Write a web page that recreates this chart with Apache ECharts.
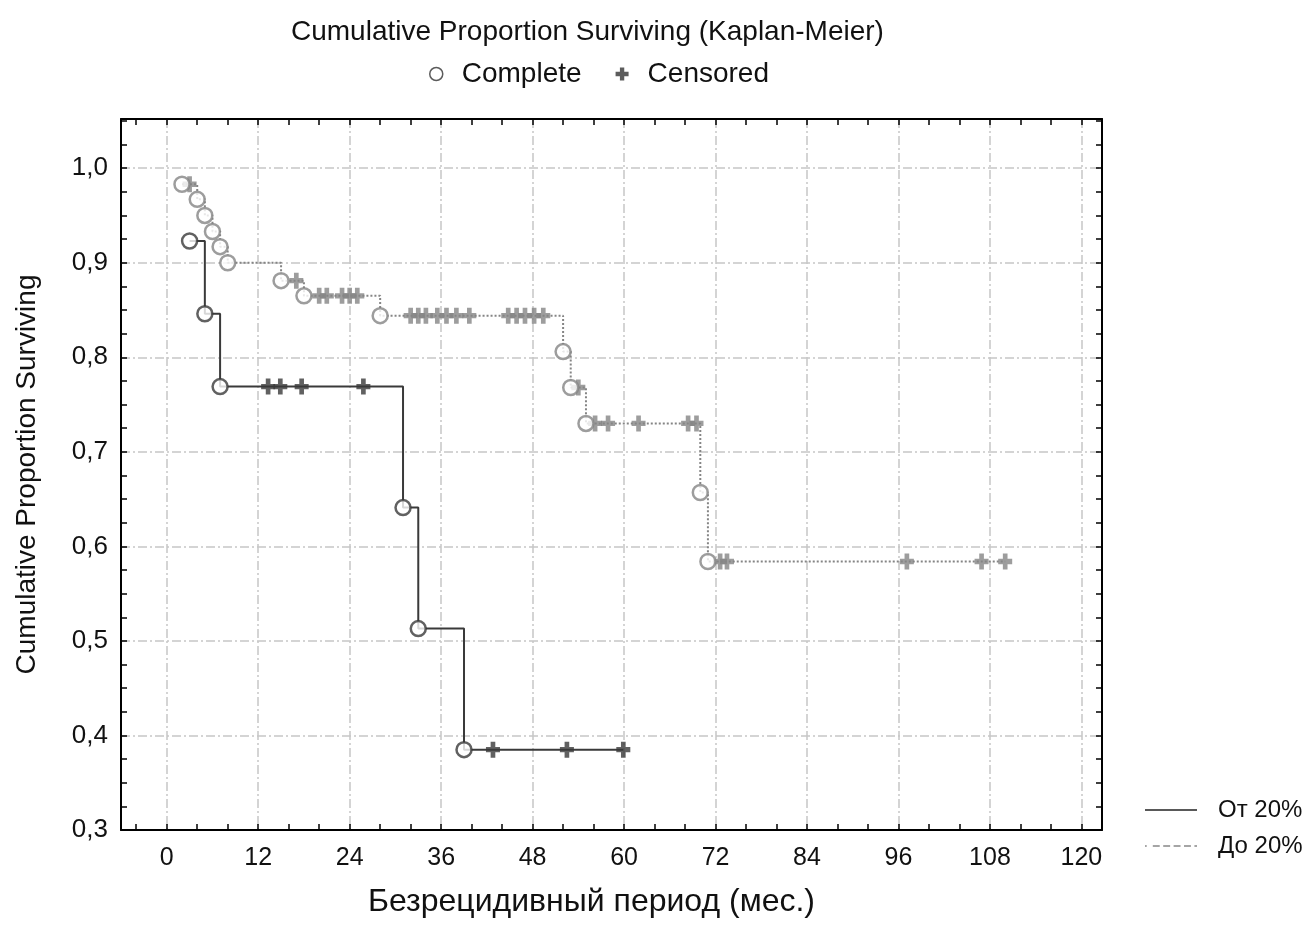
<!DOCTYPE html>
<html>
<head>
<meta charset="utf-8">
<script src="https://cdn.jsdelivr.net/npm/echarts@6/dist/echarts.min.js"></script>
<style>
  html, body { margin: 0; padding: 0; background: #fff; }
  #main { width: 1315px; height: 925px; }
</style>
</head>
<body>
<div id="main"></div>
<script>
// group "От 20%" (solid line)
const otEventT = [3, 5, 7, 31, 33, 39];
const otEventS = [0.923, 0.846, 0.769, 0.641, 0.513, 0.385];
const otCensT = [13.3, 14.9, 17.7, 25.8, 42.8, 52.5, 59.9];
const otCensS = [0.769, 0.769, 0.769, 0.769, 0.385, 0.385, 0.385];

// group "До 20%" (dotted line)
const doEventT = [2, 4, 5, 6, 7, 8, 15, 18, 28, 52, 53, 55, 70, 71];
const doEventS = [0.983, 0.967, 0.950, 0.933, 0.917, 0.900, 0.881, 0.865, 0.844, 0.806, 0.768, 0.730, 0.657, 0.584];
const doCensT = [3, 17, 20, 21, 23, 24, 25, 32, 33, 34, 35.5, 36.7, 38, 39.7,
  44.8, 45.9, 47, 48.2, 49.4, 54, 56.2, 57.9, 61.9, 68.4, 69.5, 72.6, 73.5, 97.1, 106.9, 110];
const doCensS = [0.983, 0.881, 0.865, 0.865, 0.865, 0.865, 0.865, 0.844, 0.844, 0.844, 0.844, 0.844, 0.844, 0.844,
  0.844, 0.844, 0.844, 0.844, 0.844, 0.768, 0.730, 0.730, 0.730, 0.730, 0.730, 0.584, 0.584, 0.584, 0.584, 0.584];

const xMajor = [0, 12, 24, 36, 48, 60, 72, 84, 96, 108, 120];
const xMinor = [-4, 0, 4, 8, 12, 16, 20, 24, 28, 32, 36, 40, 44, 48, 52, 56, 60, 64, 68, 72, 76, 80,
  84, 88, 92, 96, 100, 104, 108, 112, 116, 120];
const yMajor = [0.3, 0.4, 0.5, 0.6, 0.7, 0.8, 0.9, 1.0];
const yMinor = [0.3, 0.325, 0.35, 0.375, 0.4, 0.425, 0.45, 0.475, 0.5, 0.525, 0.55, 0.575, 0.6, 0.625,
  0.65, 0.675, 0.7, 0.725, 0.75, 0.775, 0.8, 0.825, 0.85, 0.875, 0.9, 0.925, 0.95, 0.975, 1.0, 1.025, 1.05];

const XMIN = -6, XMAX = 122.7, YMIN = 0.3, YMAX = 1.052;
const FONT = "'Liberation Sans', Arial, sans-serif";
const DARK = '#3a3a3a', GREY = '#858585';
const PLUS = 'path://M4,0h4v4h4v4h-4v4h-4v-4h-4v-4h4z';
const SOLID_ICON = 'path://M0,0h60v2h-60z';
const DASH_ICON = 'path://M0,0h2v2h-2zM9,0h8v2h-8zM21,0h8v2h-8zM33,0h8v2h-8zM45,0h8v2h-8zM57,0h3v2h-3z';

const pairs = (t, s) => t.map((v, i) => [v, s[i]]);
const stepLine = (eT, eS, cT, cS) =>
  pairs(eT, eS).concat(pairs(cT, cS)).sort((a, b) => a[0] - b[0]);

const gridLine = { color: '#c6c6c6', width: 1.5, type: [9, 3, 2, 3] };
const tickLine = { color: '#000', width: 1.5 };
const border = { show: true, onZero: false, lineStyle: { color: '#000', width: 2 } };

const xBase = { type: 'value', min: XMIN, max: XMAX };
const yBase = { type: 'value', min: YMIN, max: YMAX };

const option = {
  animation: false,
  backgroundColor: '#fff',
  textStyle: { fontFamily: FONT },
  title: {
    text: 'Cumulative Proportion Surviving (Kaplan-Meier)',
    left: 286, top: 13,
    textStyle: { fontFamily: FONT, fontSize: 28, fontWeight: 'normal', color: '#111' }
  },
  legend: [
    {
      data: [
        { name: 'Complete', icon: 'circle', itemStyle: { color: '#fff', borderColor: '#333', borderWidth: 1.5 } },
        { name: 'Censored', icon: PLUS, itemStyle: { color: '#333' } }
      ],
      left: 424, top: 55, itemWidth: 13, itemHeight: 13, itemGap: 34,
      textStyle: { fontFamily: FONT, fontSize: 28, color: '#111', padding: [0, 0, 0, 14] }
    },
    {
      data: [
        { name: 'От 20%', icon: SOLID_ICON, itemStyle: { color: '#222' } },
        { name: 'До 20%', icon: DASH_ICON, itemStyle: { color: '#888' } }
      ],
      orient: 'vertical', left: 1140, top: 793, itemWidth: 52, itemHeight: 2, itemGap: 12,
      textStyle: { fontFamily: FONT, fontSize: 24, color: '#111', padding: [0, 0, 0, 16] }
    }
  ],
  grid: { left: 121, right: 213, top: 119, bottom: 95, containLabel: false, outerBoundsMode: 'none' },
  xAxis: [
    Object.assign({}, xBase, {
      position: 'bottom',
      name: 'Безрецидивный период (мес.)', nameLocation: 'middle', nameGap: 56,
      nameTextStyle: { fontFamily: FONT, fontSize: 32, color: '#111', padding: [0, 40, 0, 0] },
      axisLine: border,
      axisTick: { show: false, customValues: xMajor },
      axisLabel: { customValues: xMajor, margin: 16, fontFamily: FONT, fontSize: 25, color: '#111' },
      splitLine: { show: true, lineStyle: gridLine }
    }),
    Object.assign({}, xBase, {
      position: 'bottom',
      axisLine: { show: false, onZero: false },
      axisTick: { show: true, inside: true, length: 6, customValues: xMinor, lineStyle: tickLine },
      axisLabel: { show: false },
      splitLine: { show: false }
    }),
    Object.assign({}, xBase, {
      position: 'top',
      axisLine: border,
      axisTick: { show: true, inside: true, length: 6, customValues: xMinor, lineStyle: tickLine },
      axisLabel: { show: false },
      splitLine: { show: false }
    })
  ],
  yAxis: [
    Object.assign({}, yBase, {
      position: 'left',
      name: 'Cumulative Proportion Surviving', nameLocation: 'middle', nameGap: 80,
      nameTextStyle: { fontFamily: FONT, fontSize: 28, color: '#111' },
      axisLine: border,
      axisTick: { show: false, customValues: yMajor },
      axisLabel: {
        customValues: yMajor, margin: 13, fontFamily: FONT, fontSize: 26, color: '#111',
        formatter: v => v.toFixed(1).replace('.', ',')
      },
      splitLine: { show: true, lineStyle: gridLine }
    }),
    Object.assign({}, yBase, {
      position: 'left',
      axisLine: { show: false, onZero: false },
      axisTick: { show: true, inside: true, length: 6, customValues: yMinor, lineStyle: tickLine },
      axisLabel: { show: false },
      splitLine: { show: false }
    }),
    Object.assign({}, yBase, {
      position: 'right',
      axisLine: border,
      axisTick: { show: true, inside: true, length: 6, customValues: yMinor, lineStyle: tickLine },
      axisLabel: { show: false },
      splitLine: { show: false }
    })
  ],
  series: [
    {
      name: 'До 20%', type: 'line', step: 'end', symbol: 'none',
      lineStyle: { color: GREY, width: 2, type: [2, 2] }, itemStyle: { color: GREY },
      data: stepLine(doEventT, doEventS, doCensT, doCensS), z: 2
    },
    {
      name: 'От 20%', type: 'line', step: 'end', symbol: 'none',
      lineStyle: { color: DARK, width: 2 }, itemStyle: { color: DARK },
      data: stepLine(otEventT, otEventS, otCensT, otCensS), z: 2
    },
    {
      name: 'Censored', type: 'scatter', symbol: PLUS, symbolSize: [14, 16],
      itemStyle: { color: GREY }, data: pairs(doCensT, doCensS), z: 3
    },
    {
      name: 'Complete', type: 'scatter', symbol: 'circle', symbolSize: 15,
      itemStyle: { color: '#fff', borderColor: GREY, borderWidth: 2.5 },
      data: pairs(doEventT, doEventS), z: 4
    },
    {
      name: 'Censored', type: 'scatter', symbol: PLUS, symbolSize: [14, 16],
      itemStyle: { color: DARK }, data: pairs(otCensT, otCensS), z: 3
    },
    {
      name: 'Complete', type: 'scatter', symbol: 'circle', symbolSize: 15,
      itemStyle: { color: '#fff', borderColor: DARK, borderWidth: 2.5 },
      data: pairs(otEventT, otEventS), z: 4
    }
  ]
};

echarts.init(document.getElementById('main')).setOption(option);
</script>
</body>
</html>
